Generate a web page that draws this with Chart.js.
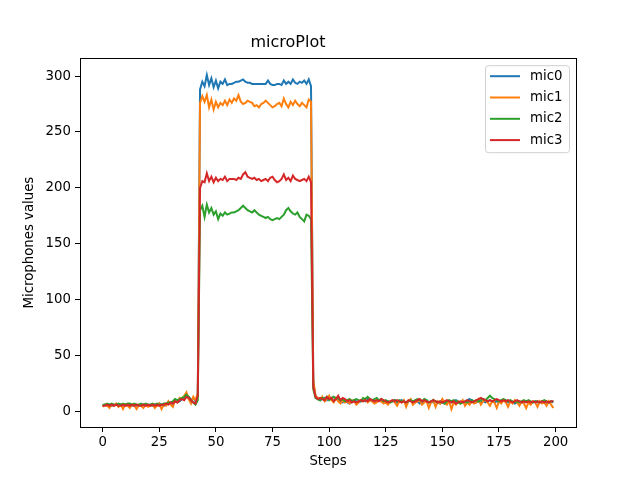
<!DOCTYPE html>
<html>
<head>
<meta charset="utf-8">
<script src="https://cdn.jsdelivr.net/npm/chart.js@4.4.1/dist/chart.umd.min.js"></script>
<style>
  html, body { margin: 0; padding: 0; background: #fff; }
  #wrap { width: 640px; height: 480px; }
</style>
</head>
<body>
<div id="wrap"><canvas id="microPlot" width="640" height="480"></canvas></div>
<script>
const seriesNames = ["mic0", "mic1", "mic2", "mic3"];
const colors = ["#1f77b4", "#ff7f0e", "#2ca02c", "#d62728"];
const xTicks = [0, 25, 50, 75, 100, 125, 150, 175, 200];
const yTicks = [0, 50, 100, 150, 200, 250, 300];

const mic0 = [
  5,6,5,6,5,6,6,5,6,5, 6,5,6,5,6,5,5,6,5,6, 5,6,5,6,5,7,6,5,6,8, 7,6,9,8,9,11,12,14,13,10,12,9,14,
  288,295,291,301,292,298,290,296,289,295, 293,297,292,293,293,294,295,295,296,297,
  295,294,294,293,293,293,293,293,293,293, 296,293,292,292,293,293,292,296,293,295,
  293,297,294,293,295,294,296,293,297,291,
  25,13,11,10,11,12,10,13,11,9, 12,10,9,8,9,8,7,9,10,9, 8,9,10,9,11,10,9,8,9,10,
  9,8,8,9,8,9,10,8,9,10, 9,8,9,10,9,8,9,7,8,9, 10,8,9,8,9,8,7,8,7,8,
  9,8,9,10,9,8,9,8,10,11, 10,9,8,9,8,9,8,9,10,9, 8,9,8,9,10,9,8,9,8,7,
  8,9,8,8,9,8,7,8,9,8, 8,9,8,7,8,9,8
];

const mic1 = [
  4,6,5,3,6,5,7,4,6,2, 6,5,3,6,5,2,6,5,3,6, 4,5,6,3,5,7,2,6,5,9, 6,4,10,8,12,11,14,17,11,7,13,10,16,
  276,282,277,283,272,279,270,277,272,276, 274,278,274,279,276,280,278,283,277,275,
  276,278,277,276,273,274,272,275,276,278, 276,274,272,273,275,276,273,280,275,272,
  277,274,278,275,273,276,274,272,279,277,
  28,14,12,10,13,9,11,14,10,8, 12,9,7,10,8,9,7,10,9,6, 8,10,9,11,8,10,9,7,8,10,
  9,7,8,6,9,10,8,5,9,8, 10,4,9,11,6,8,9,10,6,8, 9,3,8,10,4,9,7,11,8,6,
  9,2,8,6,9,7,10,5,8,6, 9,7,8,11,6,9,10,8,5,9, 8,3,9,7,10,8,4,9,7,10,
  8,5,9,7,3,8,6,9,8,4, 9,7,8,5,9,6,3
];

const mic2 = [
  6,6,7,6,7,6,6,7,6,7, 6,7,7,6,7,6,6,7,6,7, 6,6,7,6,7,6,6,7,7,8, 8,9,11,10,11,12,13,15,13,10,8,6,10,
  180,184,174,185,178,182,176,179,172,177, 175,178,176,177,178,178,179,180,182,184,
  182,180,179,178,180,178,176,175,174,173, 174,172,171,172,173,172,174,176,180,182,
  179,177,176,178,174,172,170,176,175,172,
  20,12,11,10,12,11,13,10,12,13, 11,12,10,11,9,10,11,9,10,11, 10,9,12,11,13,11,10,11,12,10,
  11,9,10,9,8,9,10,9,10,9, 9,8,9,10,9,10,11,10,9,11, 10,8,9,10,9,8,9,8,7,9,
  10,9,10,9,8,7,8,9,8,9, 10,9,10,9,10,11,10,12,14,12, 11,10,9,10,11,10,9,10,9,8,
  9,8,9,10,9,10,9,8,9,9, 8,9,10,9,8,9,9
];

const mic3 = [
  5,5,6,5,6,5,6,5,5,6, 5,6,5,6,5,6,5,5,6,5, 6,5,6,5,6,5,6,6,7,6, 8,7,9,8,10,11,10,13,12,10,8,7,14,
  200,206,205,213,206,210,205,209,206,208, 207,210,206,208,208,208,207,209,208,212,
  214,210,209,208,209,207,208,206,207,208, 206,209,210,207,205,206,208,212,207,209,
  206,211,208,207,206,207,208,206,210,205,
  22,13,11,12,11,10,13,11,12,9, 11,14,10,12,11,9,10,8,9,8, 9,10,9,10,9,11,10,9,10,9,
  11,10,9,8,9,10,9,10,9,8, 9,8,10,9,8,9,10,11,9,10, 9,8,9,10,9,8,9,8,9,10,
  9,8,9,7,8,9,8,9,10,9, 8,9,10,11,12,11,10,9,10,9, 10,11,10,9,10,9,10,9,8,9,
  10,9,8,9,8,9,8,9,8,9, 8,9,8,9,8,9,9
];

const allSeries = [mic0, mic1, mic2, mic3];
const FONT = "'DejaVu Sans', sans-serif";

// frame round the plot + matplotlib style legend inside the axes
const framePlugin = {
  id: "frame",
  afterDraw(chart) {
    const { ctx, chartArea: a } = chart;
    ctx.save();
    ctx.strokeStyle = "#000";
    ctx.lineWidth = 1;
    ctx.strokeRect(Math.round(a.left) + 0.5, Math.round(a.top) + 0.5,
      Math.round(a.right - a.left), Math.round(a.bottom - a.top));

    const bw = 84, bh = 87;
    const bx = a.right - 7 - bw, by = a.top + 7;
    ctx.beginPath();
    ctx.roundRect(bx + 0.5, by + 0.5, bw, bh, 3);
    ctx.fillStyle = "rgba(255,255,255,0.8)";
    ctx.fill();
    ctx.strokeStyle = "#d0d0d0";
    ctx.stroke();

    ctx.font = "13.3px " + FONT;
    ctx.textBaseline = "middle";
    chart.data.datasets.forEach((ds, i) => {
      const y = by + 11 + i * 21.3;
      ctx.beginPath();
      ctx.moveTo(bx + 5, y);
      ctx.lineTo(bx + 35, y);
      ctx.strokeStyle = ds.borderColor;
      ctx.lineWidth = 2;
      ctx.stroke();
      ctx.fillStyle = "#000";
      ctx.fillText(ds.label, bx + 45, y);
    });
    ctx.restore();
  }
};

new Chart(document.getElementById("microPlot"), {
  type: "line",
  data: {
    datasets: allSeries.map((vals, i) => ({
      label: seriesNames[i],
      data: vals.map((v, k) => ({ x: k, y: v })),
      borderColor: colors[i],
      backgroundColor: colors[i],
      borderWidth: 2,
      pointRadius: 0,
      tension: 0,
      fill: false,
      order: allSeries.length - 1 - i
    }))
  },
  options: {
    responsive: false,
    animation: false,
    devicePixelRatio: 1,
    layout: { padding: { left: 0, right: 64, top: 0, bottom: 0 } },
    plugins: {
      legend: { display: false },
      tooltip: { enabled: false },
      title: {
        display: true,
        text: "microPlot",
        color: "#000",
        font: { family: FONT, size: 16, weight: "normal" },
        padding: { top: 33, bottom: 6 }
      }
    },
    scales: {
      x: {
        type: "linear",
        min: -10,
        max: 209,
        afterBuildTicks: s => { s.ticks = xTicks.map(v => ({ value: v })); },
        afterFit: s => { s.height = 53; },
        grid: { display: true, drawOnChartArea: false, drawTicks: true, tickLength: 5, color: "#000" },
        border: { display: true, color: "#000" },
        ticks: { color: "#000", font: { family: FONT, size: 13.3 }, padding: 3, maxRotation: 0 },
        title: {
          display: true, text: "Steps", color: "#000",
          font: { family: FONT, size: 13.3 }, padding: { top: 4, bottom: 10 }
        }
      },
      y: {
        type: "linear",
        min: -14,
        max: 316,
        afterBuildTicks: s => { s.ticks = yTicks.map(v => ({ value: v })); },
        afterFit: s => { s.width = 80; },
        grid: { display: true, drawOnChartArea: false, drawTicks: true, tickLength: 5, color: "#000" },
        border: { display: true, color: "#000" },
        ticks: { color: "#000", font: { family: FONT, size: 13.3 }, padding: 4 },
        title: {
          display: true, text: "Microphones values", color: "#000",
          font: { family: FONT, size: 13.3 }, padding: { top: 22, bottom: 4 }
        }
      }
    }
  },
  plugins: [framePlugin]
});
</script>
</body>
</html>
